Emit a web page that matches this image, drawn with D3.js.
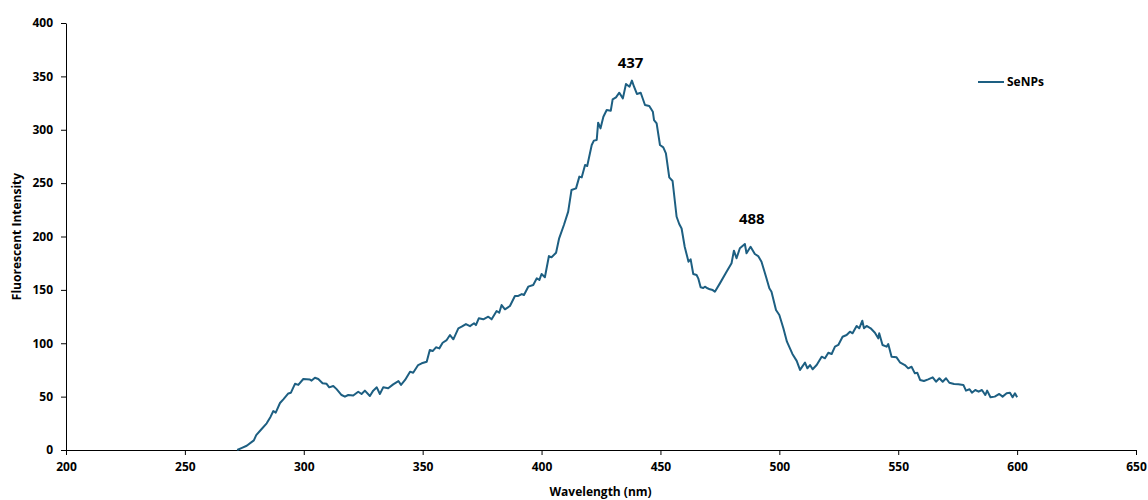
<html>
<head>
  <script src="https://d3js.org/d3.v7.min.js"></script>
  <style>
    body { margin: 0; font-family: 'Open Sans', 'Liberation Sans', Arial, sans-serif; background: #fff; }
    .axis text { font-family: 'Open Sans', 'Liberation Sans', Arial, sans-serif; font-size: 12px; font-weight: 700; fill: #000; }
    .axis path, .axis line { stroke: #000; }
  </style>
</head>
<body>
  <svg id="chart" width="1148" height="500"></svg>
  <script>
    // ----
    // DATA
    // ----
    const wavelength = [
      272.0, 274.0, 276.0, 279.0, 280.0, 282.0, 284.4, 286.0, 287.2, 288.2, 290.0, 291.4,
      293.5, 294.6, 296.3, 297.7, 299.8, 302.6, 303.3, 304.7, 306.1, 307.9, 309.6, 310.7,
      312.4, 313.8, 315.9, 317.3, 318.7, 320.8, 322.9, 324.3, 325.7, 327.8, 329.2, 330.7,
      332.0, 333.4, 335.5, 337.6, 339.8, 340.9, 342.6, 344.7, 346.0, 348.1, 349.6, 351.7,
      353.0, 354.2, 355.6, 357.0, 358.4, 360.1, 361.5, 362.9, 365.0, 366.4, 368.2, 369.9,
      371.6, 372.4, 373.6, 375.5, 377.6, 379.0, 381.1, 382.2, 383.2, 384.6, 386.7, 388.8,
      390.2, 391.7, 392.6, 394.4, 396.5, 398.0, 399.1, 400.0, 401.4, 403.1, 404.2, 406.1,
      407.4, 409.4, 411.2, 412.6, 414.5, 415.9, 416.9, 418.3, 419.2, 421.1, 422.0, 423.2,
      423.8, 424.8, 426.0, 427.4, 429.1, 429.9, 431.3, 432.7, 434.2, 435.5, 437.0, 438.0,
      438.9, 440.1, 441.7, 443.5, 445.3, 446.8, 447.3, 448.4, 449.8, 451.2, 452.3, 453.7,
      455.1, 456.8, 457.9, 458.9, 460.2, 461.8, 462.7, 463.8, 465.2, 465.9, 466.9, 468.0,
      468.7, 469.8, 470.8, 472.0, 472.9, 475.0, 477.8, 479.9, 480.9, 482.0, 483.4, 485.5,
      486.2, 487.9, 489.7, 491.1, 492.5, 494.4, 495.8, 496.7, 498.6, 500.0, 501.7, 503.2,
      505.5, 507.3, 508.7, 510.8, 511.8, 512.9, 514.0, 515.7, 517.8, 519.2, 520.6, 522.0,
      523.4, 524.8, 526.6, 528.3, 529.7, 530.8, 532.5, 533.6, 534.9, 535.6, 536.7, 538.4,
      540.2, 541.6, 542.0, 543.4, 545.1, 545.8, 547.2, 549.3, 550.7, 552.8, 554.2, 555.6,
      557.0, 558.0, 559.2, 560.8, 562.6, 564.5, 565.9, 567.3, 568.7, 570.1, 571.5, 573.5,
      575.3, 577.4, 578.5, 580.0, 581.0, 582.4, 583.8, 585.2, 586.6, 587.4, 588.8, 590.6,
      592.5, 593.9, 595.6, 597.0, 598.1, 599.1, 600.0
    ];
    const intensity = [
      0.0, 2.0, 4.0, 9.0, 14.0, 19.0, 25.0, 31.0, 36.5, 35.0, 44.0, 47.5,
      53.0, 53.7, 62.0, 61.0, 66.5, 66.0, 65.0, 67.7, 66.5, 62.5, 62.0, 58.7,
      60.0, 57.0, 51.5, 50.0, 51.5, 51.0, 54.6, 52.5, 55.6, 50.6, 55.6, 58.7,
      52.5, 58.7, 57.8, 61.5, 64.6, 61.0, 65.6, 73.4, 72.4, 79.6, 81.2, 82.7,
      93.7, 92.7, 96.2, 95.2, 100.5, 103.0, 107.7, 103.7, 114.0, 115.5, 118.0, 116.0,
      118.7, 117.0, 123.4, 122.4, 124.9, 122.4, 130.2, 128.6, 135.8, 131.8, 134.9, 144.3,
      144.3, 146.1, 145.2, 153.0, 154.6, 160.8, 159.3, 164.9, 161.8, 181.7, 180.5, 184.8,
      198.3, 210.8, 223.3, 243.6, 245.1, 256.1, 255.4, 267.0, 266.0, 285.7, 289.8, 290.4,
      306.6, 301.3, 312.2, 318.5, 317.8, 328.5, 330.4, 334.7, 329.4, 342.9, 340.3, 346.0,
      340.3, 333.5, 334.7, 323.2, 322.2, 316.9, 309.1, 306.0, 285.7, 283.5, 277.9, 255.4,
      252.0, 218.5, 211.7, 207.5, 190.4, 176.4, 178.6, 164.9, 163.9, 160.8, 152.4, 151.8,
      153.0, 151.5, 150.5, 149.8, 148.3, 156.1, 167.0, 174.9, 186.7, 179.6, 189.0, 193.0,
      184.3, 190.4, 183.6, 181.7, 176.4, 162.3, 151.5, 148.3, 131.1, 126.5, 114.0, 101.5,
      90.0, 83.5, 75.0, 81.8, 76.5, 79.6, 75.6, 79.6, 87.4, 85.9, 91.1, 89.9,
      96.8, 98.4, 106.1, 107.7, 110.8, 109.3, 116.2, 114.0, 121.1, 114.0, 116.2, 114.0,
      109.9, 104.6, 109.3, 98.4, 96.8, 99.3, 87.4, 86.8, 82.2, 79.6, 76.5, 78.0,
      71.8, 72.4, 65.6, 64.6, 66.2, 68.1, 64.0, 67.2, 64.0, 67.2, 63.0, 61.8,
      61.5, 61.0, 55.6, 56.9, 53.7, 56.2, 54.6, 56.2, 51.5, 55.6, 49.4, 50.0,
      52.5, 50.0, 53.1, 53.7, 49.4, 53.1, 49.4
    ];
    const xTicks = [200, 250, 300, 350, 400, 450, 500, 550, 600, 650];
    const yTicks = [0, 50, 100, 150, 200, 250, 300, 350, 400];
    // peak annotations: wavelength and the intensity level the label sits at
    const peakLabels = [
      { wl: 437, at: 358, label: "437" },
      { wl: 488, at: 212, label: "488" }
    ];
    const seriesName = "SeNPs";

    const data = wavelength.map((w, i) => ({ w: w, v: intensity[i] }));

    // ----------
    // DIMENSIONS
    // ----------
    const svg = d3.select("svg#chart");
    const margin = { top: 23, right: 12, bottom: 50, left: 66 };
    const chartWidth = 1148 - margin.left - margin.right;
    const chartHeight = 500 - margin.top - margin.bottom;
    const lineColor = "#1d5f82";

    const chartArea = svg.append("g")
      .attr("transform", `translate(${margin.left},${margin.top})`);

    // ------
    // SCALES
    // ------
    const xScale = d3.scaleLinear().domain([200, 650]).range([0, chartWidth]);
    const yScale = d3.scaleLinear().domain([0, 400]).range([chartHeight, 0]);

    // ----
    // AXES
    // ----
    chartArea.append("g")
      .attr("class", "axis")
      .attr("transform", `translate(0,${chartHeight})`)
      .call(d3.axisBottom(xScale).tickValues(xTicks).tickSize(5).tickSizeOuter(5).tickPadding(5))
      .call(g => g.selectAll("text").attr("dy", "0.9em"));

    chartArea.append("g")
      .attr("class", "axis")
      .call(d3.axisLeft(yScale).tickValues(yTicks).tickSize(5).tickSizeOuter(0).tickPadding(8));

    // axis titles
    svg.append("text")
      .attr("x", margin.left + xScale(400) + 59)
      .attr("y", 496)
      .attr("text-anchor", "middle")
      .attr("font-size", "12px")
      .attr("font-weight", 700)
      .text("Wavelength (nm)");

    svg.append("text")
      .attr("transform", `translate(21,${margin.top + yScale(200)}) rotate(-90)`)
      .attr("text-anchor", "middle")
      .attr("font-size", "12px")
      .attr("font-weight", 700)
      .text("Fluorescent Intensity");

    // ----
    // LINE
    // ----
    const line = d3.line().x(d => xScale(d.w)).y(d => yScale(d.v));
    chartArea.append("path")
      .datum(data)
      .attr("fill", "none")
      .attr("stroke", lineColor)
      .attr("stroke-width", 2)
      .attr("stroke-linejoin", "round")
      .attr("d", line);

    // peak labels
    chartArea.selectAll("text.peak")
      .data(peakLabels)
      .join("text").attr("class", "peak")
      .attr("x", d => xScale(d.wl) + 1)
      .attr("y", d => yScale(d.at))
      .attr("text-anchor", "middle")
      .attr("font-size", "15px")
      .attr("font-weight", 700)
      .text(d => d.label);

    // ------
    // LEGEND
    // ------
    const legend = svg.append("g").attr("transform", "translate(978,82)");
    legend.append("line")
      .attr("x1", 0).attr("x2", 26)
      .attr("stroke", lineColor)
      .attr("stroke-width", 2);
    legend.append("text")
      .attr("x", 29)
      .attr("dy", "0.35em")
      .attr("font-size", "12px")
      .attr("font-weight", 700)
      .text(seriesName);
  </script>
</body>
</html>
